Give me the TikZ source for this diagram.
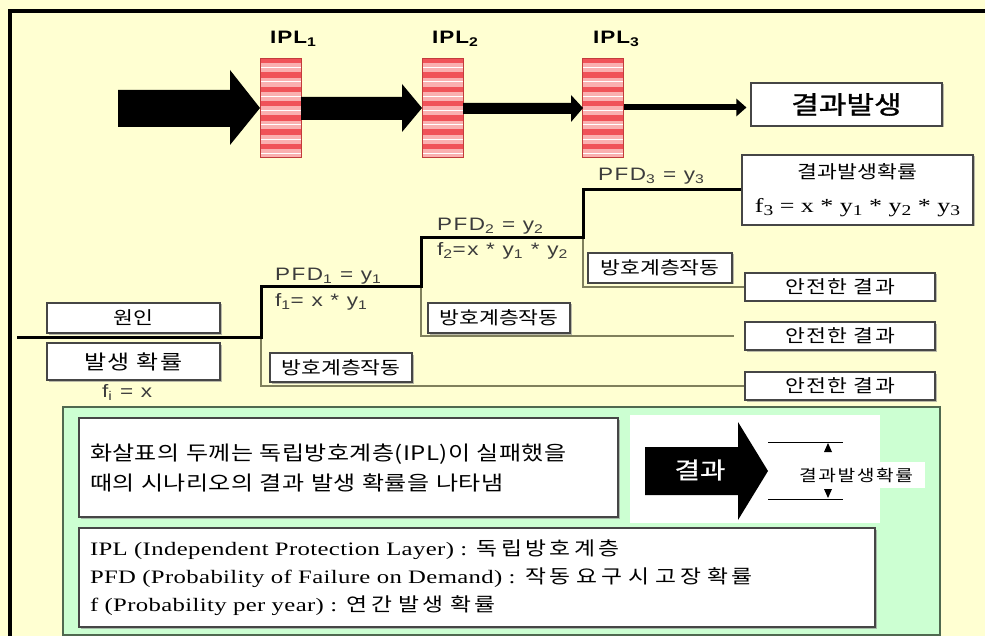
\documentclass[tikz,border=0pt]{standalone}
\usepackage{fontspec}
\setmainfont[FakeStretch=1.25]{Liberation Sans}
\newfontfamily\kr[FakeStretch=1.2]{Noto Sans CJK KR}
\newfontfamily\serif[FakeStretch=1.3]{Liberation Serif}
\usetikzlibrary{calc,shadows,arrows.meta}
\definecolor{bgy}{RGB}{255,255,210}
\definecolor{grn}{RGB}{204,255,210}
\definecolor{grnb}{RGB}{80,105,80}
\definecolor{iplred}{RGB}{240,82,88}
\definecolor{iplpink}{RGB}{250,176,176}
\definecolor{iplline}{RGB}{195,60,60}
\definecolor{treel}{RGB}{128,128,92}
\definecolor{boxc}{RGB}{70,70,70}
\definecolor{lblc}{RGB}{60,60,60}
\newcommand\sbs[1]{\raisebox{-0.3ex}{\fontsize{15}{15}\selectfont #1}}
\begin{document}
\begin{tikzpicture}[x=1pt,y=-1pt,
  wbox/.style={draw=boxc, fill=white, line width=1.1pt, inner sep=0pt,
    drop shadow={shadow xshift=1.5pt, shadow yshift=-1.5pt, fill=black!45, opacity=0.6}},
  krt/.style 2 args={font=\kr\fontsize{#1}{#1}\selectfont\addfontfeature{LetterSpace=#2}},
  ipl/.style={minimum width=41pt, minimum height=99pt, inner sep=0pt, fill=iplpink, draw=iplline, line width=0.8pt,
    path picture={
      \foreach \k in {0,...,6}{
        \fill[iplred] ([yshift={-\k*14.3pt}]path picture bounding box.north west) rectangle ([yshift={-(\k*14.3+5.5)*1pt}]path picture bounding box.north east);
        \draw[white, line width=0.7pt] ([yshift={-(\k*14.3+9.5)*1pt}]path picture bounding box.north west) -- ([yshift={-(\k*14.3+9.5)*1pt}]path picture bounding box.north east);
      }
    }},
  ipllbl/.style={font=\bfseries\fontsize{18}{18}\selectfont\addfontfeature{LetterSpace=5}, inner sep=0pt, anchor=base west},
  lbl/.style={font=\fontsize{18}{18}\selectfont\addfontfeature{LetterSpace=8}, text=lblc, inner sep=0pt, anchor=base west},
  thickl/.style={line width=3pt, black},
  thinl/.style={line width=1.5pt, treel}]
\useasboundingbox (0,0) rectangle (985,636);
\fill[bgy] (0,0) rectangle (985,636);
\draw[line width=4pt, line cap=rect] (10,636) -- (10,11) -- (985,11);

% top row
\node[ipl] (ipl1) at (280.5,107.5) {};
\node[ipl] (ipl2) at (442.5,107.5) {};
\node[ipl] (ipl3) at (603,107.5) {};
\node[ipllbl] (l1) at (270,44) {IPL\textsubscript{1}};
\node[ipllbl] (l2) at (432,44) {IPL\textsubscript{2}};
\node[ipllbl] (l3) at (593,44) {IPL\textsubscript{3}};
\fill (118,90) -- (230,90) -- (230,70) -- (260,108) -- (230,145) -- (230,127) -- (118,127) -- cycle;
\fill (301,97) -- (402,97) -- (402,84) -- (422,108) -- (402,132) -- (402,120) -- (301,120) -- cycle;
\fill (463,103) -- (571,103) -- (571,95) -- (583,108) -- (571,122) -- (571,114) -- (463,114) -- cycle;
\node[wbox, minimum width=191pt, minimum height=43pt, font=\kr\fontsize{25}{25}\selectfont\addfontfeature{FakeBold=1.2}] (occ) at (846.5,104.5) {결과발생};
\draw[line width=6pt, -{Triangle[length=10pt,width=17pt]}, shorten >=4pt] (ipl3.east) -- (ipl3.east -| occ.west);

% event tree boxes
\node[wbox, minimum width=173pt, minimum height=30pt, krt={18}{4}] (cause) at (133.5,318) {원인};
\node[wbox, minimum width=173pt, minimum height=37pt, krt={20}{8}] (freq) at (133.5,361.5) {발생 확률};
\node[wbox, minimum width=142pt, minimum height=29pt, krt={18}{0}] (p1) at (341,367.5) {방호계층작동};
\node[wbox, minimum width=142pt, minimum height=30pt, krt={18}{0}] (p2) at (499,318) {방호계층작동};
\node[wbox, minimum width=144pt, minimum height=30pt, krt={18}{0}] (p3) at (660,268) {방호계층작동};
\node[wbox, minimum width=190pt, minimum height=28pt, krt={18}{8}] (s1) at (840,287) {안전한 결과};
\node[wbox, minimum width=190pt, minimum height=28pt, krt={18}{8}] (s2) at (840,336) {안전한 결과};
\node[wbox, minimum width=190pt, minimum height=28pt, krt={18}{8}] (s3) at (840,386) {안전한 결과};
\node[wbox, minimum width=231pt, minimum height=70pt, align=center, font=\fontsize{20}{34}\selectfont] (res) at (857.5,190)
  {{\kr\fontsize{18}{18}\selectfont 결과발생확률}\\{\serif f\sbs{3} = x * y\sbs{1} * y\sbs{2} * y\sbs{3}}};

\coordinate (t0) at (17,337);
\coordinate (b1) at (261,337);
\coordinate (b2) at (421,287);
\coordinate (b3) at (583,238);
\draw[thinl] (b1) |- (s3.west);
\draw[thinl, shorten >=10pt] (b2) |- (s2.west);
\draw[thinl] (b3) |- (s1.west);
\draw[thickl] (t0) -- (b1) |- (b2) |- (b3) |- (res.west);

\node[lbl] (pfd1) at (275,281) {PFD\textsubscript{1} = y\textsubscript{1}};
\node[lbl] (f1) at (275,307) {f\textsubscript{1}= x * y\textsubscript{1}};
\node[lbl] (pfd2) at (437,231) {PFD\textsubscript{2} = y\textsubscript{2}};
\node[lbl] (f2) at (437,256) {f\textsubscript{2}=x * y\textsubscript{1} * y\textsubscript{2}};
\node[lbl] (pfd3) at (598,181) {PFD\textsubscript{3} = y\textsubscript{3}};
\node[lbl] (fi) at (102,397) {f\textsubscript{i} = x};

% bottom panel
\draw[fill=grn, draw=grnb, line width=1.2pt] (63,407) rectangle (940,635);
\node[wbox, minimum width=539pt, minimum height=99pt, text width=517pt, align=left, font=\kr\fontsize{20}{30}\selectfont\addfontfeature{LetterSpace=2}] (note) at (348.5,467.5)
  {화살표의 두께는 독립방호계층(IPL)이 실패했을\\때의 시나리오의 결과 발생 확률을 나타냄};
\fill[white] (630,415) rectangle (880,523);
\fill (645,447) -- (738,447) -- (738,422) -- (768,471) -- (738,520) -- (738,495) -- (645,495) -- cycle;
\node[font=\kr\fontsize{23}{23}\selectfont\addfontfeature{FakeBold=1}, text=white] (kres) at (700,470) {결과};
\draw[line width=1pt] (768,442) -- (843,442);
\draw[line width=1pt] (768,499) -- (843,499);
\fill (828,443) -- (824,452) -- (832,452) -- cycle;
\fill (828,498) -- (824,489) -- (832,489) -- cycle;
\node[fill=white, minimum width=137pt, minimum height=26pt, inner sep=0pt, krt={16}{10}] (kprob) at (856,475) {결과발생확률};
\node[wbox, minimum width=796pt, minimum height=99pt, text width=774pt, align=left, font=\serif\fontsize{19}{28}\selectfont\addfontfeature{LetterSpace=2}] (legend) at (477,577.5)
  {IPL (Independent Protection Layer) : {\kr\addfontfeature{LetterSpace=18} 독립방호계층}\\
   PFD (Probability of Failure on Demand) : {\kr\addfontfeature{LetterSpace=18} 작동 요구 시 고장 확률}\\
   f (Probability per year) : {\kr\addfontfeature{LetterSpace=18} 연간 발생 확률}};
\end{tikzpicture}
\end{document}
